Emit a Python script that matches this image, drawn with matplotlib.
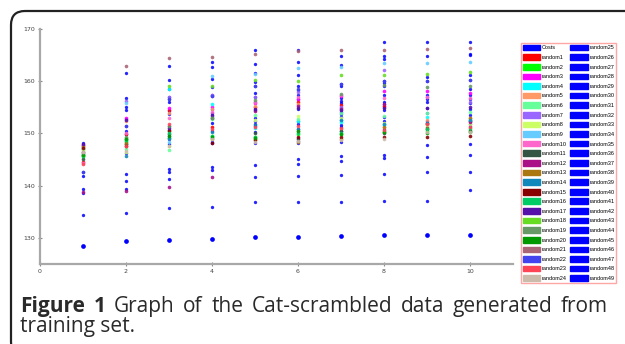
import numpy as np
import matplotlib.pyplot as plt
from matplotlib.patches import Patch, FancyBboxPatch
from matplotlib.transforms import IdentityTransform

# === Data ===
x_values = [1, 2, 3, 4, 5, 6, 7, 8, 9, 10]

costs = [128.5, 129.4, 129.6, 129.7, 130.1, 130.1, 130.3, 130.5, 130.5, 130.5]

random1 = [144.6, 149.8, 154.4, 151.2, 155.0, 156.1, 155.4, 155.2, 151.8, 152.3]
random2 = [145.7, 148.6, 149.2, 149.5, 149.4, 149.9, 149.8, 150.2, 150.4, 150.6]
random3 = [147.8, 153.0, 154.8, 155.0, 155.8, 156.5, 157.2, 158.2, 158.2, 157.8]
random4 = [147.0, 149.0, 158.6, 155.6, 151.0, 152.4, 152.1, 151.6, 153.1, 152.6]
random5 = [147.4, 152.4, 154.0, 154.6, 155.2, 155.6, 150.9, 151.3, 152.6, 152.9]
random6 = [147.2, 147.0, 146.8, 152.7, 153.5, 152.8, 153.9, 153.4, 154.0, 154.2]
random7 = [146.2, 156.3, 157.0, 157.4, 157.0, 158.0, 155.0, 162.2, 157.0, 156.1]
random8 = [146.8, 146.4, 147.5, 153.2, 152.6, 153.3, 152.9, 152.0, 151.6, 151.9]
random9 = [146.0, 155.8, 148.4, 161.0, 161.4, 162.5, 162.8, 163.4, 163.4, 163.6]
random10 = [144.4, 150.0, 153.0, 154.2, 156.0, 157.0, 157.4, 156.7, 157.0, 156.8]
random11 = [145.2, 148.0, 149.8, 152.9, 150.0, 149.0, 150.4, 150.0, 150.8, 150.5]
random12 = [138.8, 139.0, 139.8, 141.6, 154.3, 155.2, 154.6, 155.6, 152.0, 152.2]
random13 = [147.6, 148.2, 150.4, 149.0, 148.9, 148.4, 149.0, 151.2, 151.0, 152.9]
random14 = [145.9, 145.6, 149.2, 150.2, 151.6, 150.9, 152.6, 151.8, 152.0, 152.5]
random15 = [147.3, 147.6, 150.7, 148.2, 148.8, 149.4, 149.4, 149.4, 149.4, 149.5]
random16 = [145.7, 148.8, 150.0, 149.5, 149.4, 150.0, 150.0, 150.4, 150.8, 151.0]
random17 = [148.0, 152.6, 151.0, 153.6, 154.6, 154.8, 154.5, 154.8, 154.9, 155.0]
random18 = [145.9, 149.2, 159.1, 159.0, 160.2, 160.1, 161.2, 161.2, 161.4, 161.8]
random19 = [146.5, 149.4, 151.4, 152.9, 156.4, 150.4, 157.6, 159.3, 158.9, 159.1]
random20 = [145.8, 149.0, 149.6, 149.4, 149.2, 150.5, 149.8, 150.2, 150.0, 150.3]
random21 = [146.5, 163.0, 164.4, 164.6, 165.2, 165.8, 166.0, 166.0, 166.1, 166.3]
random22 = [142.6, 151.5, 156.5, 157.1, 159.0, 158.6, 159.5, 160.1, 160.0, 160.2]
random23 = [144.2, 147.6, 151.8, 150.8, 151.2, 151.4, 151.0, 150.6, 151.8, 151.2]
random24 = [146.5, 146.7, 147.5, 149.0, 148.4, 148.6, 148.8, 148.9, 150.2, 150.2]

# random25..random49 are all drawn in the same blue; visible points per x
blue_x1 = [148.1, 147.7, 147.4, 147.0, 142.6, 141.8, 139.4, 138.5, 134.4]
blue_x2 = [161.5, 156.7, 155.1, 154.5, 152.7, 151.5, 150.5, 149.8, 148.9, 148.4,
           148.0, 146.3, 142.3, 140.8, 139.4, 134.8]
blue_x3 = [163.0, 160.2, 158.5, 157.0, 156.5, 156.0, 154.3, 153.7, 151.4, 150.5,
           149.5, 149.0, 148.0, 143.1, 142.6, 141.2, 135.7]
blue_x4 = [163.7, 162.7, 160.4, 158.8, 157.4, 157.1, 154.6, 153.9, 153.4, 152.0,
           150.4, 149.1, 148.4, 148.1, 143.5, 143.0, 136.0]
blue_x5 = [166.0, 163.3, 161.6, 159.8, 159.0, 157.7, 157.0, 156.0, 154.5, 153.0,
           152.3, 151.8, 151.4, 150.2, 148.2, 144.0, 141.6, 136.8]
blue_x6 = [165.9, 163.7, 161.2, 159.1, 158.3, 157.4, 156.6, 155.5, 154.6, 152.3,
           151.8, 150.8, 149.1, 148.6, 148.2, 145.2, 144.1, 141.9, 136.8]
blue_x7 = [164.8, 163.1, 159.5, 159.1, 156.7, 156.3, 155.8, 154.8, 154.2, 153.7,
           153.2, 152.6, 151.6, 151.2, 150.4, 148.4, 145.7, 144.8, 142.1, 136.9]
blue_x8 = [167.6, 164.8, 164.2, 160.1, 159.6, 159.0, 157.4, 156.1, 155.6, 155.0,
           154.5, 153.1, 152.3, 151.8, 150.8, 145.9, 145.3, 142.3, 137.0]
blue_x9 = [167.6, 164.8, 160.8, 160.0, 157.4, 156.5, 156.0, 154.8, 153.9, 152.3,
           151.3, 147.8, 145.4, 142.6, 137.0]
blue_x10 = [167.6, 165.3, 165.0, 161.2, 160.2, 158.6, 157.4, 156.5, 155.8, 154.6,
            153.5, 152.3, 151.8, 151.4, 147.9, 145.8, 142.7, 139.2]

series_names = ["Costs"] + [f"random{i}" for i in range(1, 50)]

colored = [random1, random2, random3, random4, random5, random6, random7, random8,
           random9, random10, random11, random12, random13, random14, random15,
           random16, random17, random18, random19, random20, random21, random22,
           random23, random24]
blue_cols = [blue_x1, blue_x2, blue_x3, blue_x4, blue_x5, blue_x6, blue_x7,
             blue_x8, blue_x9, blue_x10]

# === Styles ===
BLUE = "#0000ff"
colors = ["#ff0000", "#00ff00", "#ff00ff", "#00ffff", "#ff9966", "#66ff99",
          "#9966ff", "#ccff66", "#66ccff", "#ff66cc", "#335544", "#aa1188",
          "#aa7711", "#1188bb", "#880000", "#00cc66", "#5511aa", "#66dd22",
          "#669966", "#009900", "#aa6677", "#4444ee", "#ff4455", "#ccbbaa"]
series_colors = [BLUE] + colors + [BLUE] * 25

W, H = 625, 344
fig = plt.figure(figsize=(W / 100, H / 100), dpi=100)

ax = fig.add_axes([40 / W, 1 - 264 / H, (513 - 40) / W, (264 - 29) / H])

for xv, vals in zip(x_values, blue_cols):
    ax.plot([xv] * len(vals), vals, "o", color=BLUE, ms=2.4, mew=0, alpha=0.85)
for vals, c in zip(colored, colors):
    ax.plot(x_values, vals, "o", color=c, ms=2.6, mew=0, alpha=0.9)
ax.plot(x_values, costs, "o", color=BLUE, ms=3.4, mew=0)

ax.set_xlim(0, 11)
ax.set_ylim(125, 170)
ax.set_xticks(range(0, 11, 2))
ax.set_yticks(range(130, 171, 10))
for s in ["top", "right"]:
    ax.spines[s].set_visible(False)
for s in ["left", "bottom"]:
    ax.spines[s].set_color("#a8a8a8")
    ax.spines[s].set_linewidth(1.6)
ax.tick_params(labelsize=4.5, length=3.5, width=0.8, color="#888888",
               labelcolor="#444444", direction="inout", pad=2)

# legend
handles = [Patch(facecolor=c, edgecolor=c, label=n)
           for c, n in zip(series_colors, series_names)]
leg = fig.legend(handles=handles, ncol=2, loc="upper left",
                 bbox_to_anchor=(521 / W, 1 - 43 / H),
                 prop={"family": "Liberation Sans", "size": 4.0},
                 handlelength=3.1, handleheight=1.2, handletextpad=0.35,
                 labelspacing=0.7, columnspacing=0.6, borderpad=0.3,
                 borderaxespad=0, fancybox=False, frameon=True)
leg.get_frame().set_edgecolor("#ff9090")
leg.get_frame().set_linewidth(1.0)

# rounded frame around the figure panel
frame = FancyBboxPatch((11, -12), 700, H - 11 + 12,
                       boxstyle="round,pad=0,rounding_size=14",
                       transform=IdentityTransform(), facecolor="none",
                       edgecolor="#222222", linewidth=1.6)
fig.add_artist(frame)

# caption, justified on the first line
renderer = fig.canvas.get_renderer()
cap_color = "#2a2a2a"
cap_size = 15
words = [("Figure", "bold"), ("1", "bold"), ("Graph", "normal"), ("of", "normal"),
         ("the", "normal"), ("Cat-scrambled", "normal"), ("data", "normal"),
         ("generated", "normal"), ("from", "normal")]
texts = []
for w, wt in words:
    t = fig.text(0, H - 312, w, transform=IdentityTransform(), fontsize=cap_size,
                 family="Open Sans", fontweight=wt, color=cap_color, va="baseline")
    texts.append(t)
widths = [t.get_window_extent(renderer).width for t in texts]
gap = (608 - 20 - sum(widths)) / (len(words) - 1)
xpos = 20
for t, wd in zip(texts, widths):
    t.set_x(xpos)
    xpos += wd + gap
fig.text(20, H - 332, "training set.", transform=IdentityTransform(),
         fontsize=cap_size, family="Open Sans", color=cap_color, va="baseline")

fig.savefig("out.png", dpi=100)
